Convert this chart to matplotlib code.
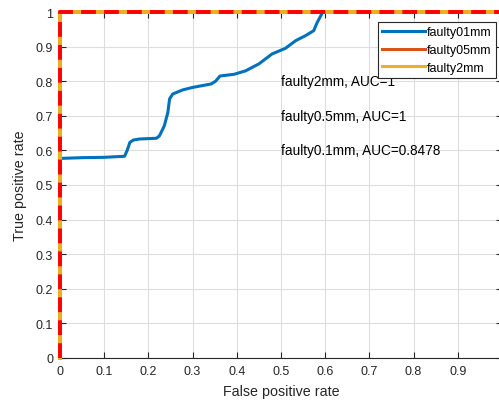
import matplotlib
matplotlib.use("Agg")
import matplotlib.pyplot as plt
import numpy as np

plt.rcParams['font.family'] = ['Liberation Sans', 'DejaVu Sans']

# ROC data
fpr_01mm = [0, 0, 0.004, 0.05, 0.10, 0.146, 0.152, 0.158, 0.166, 0.18, 0.218, 0.225,
            0.236, 0.244, 0.248, 0.255, 0.278, 0.30, 0.342, 0.352, 0.362, 0.394, 0.42,
            0.45, 0.48, 0.51, 0.533, 0.556, 0.574, 0.582, 0.592, 0.594, 1.0]
tpr_01mm = [0, 0.577, 0.577, 0.579, 0.580, 0.583, 0.600, 0.623, 0.630, 0.633, 0.635, 0.642,
            0.671, 0.71, 0.749, 0.763, 0.775, 0.782, 0.792, 0.80, 0.815, 0.82, 0.83,
            0.85, 0.879, 0.895, 0.917, 0.932, 0.946, 0.970, 0.994, 1.0, 1.0]
fpr_05mm = [0, 0, 1]
tpr_05mm = [0, 1, 1]
fpr_2mm = [0, 0, 1]
tpr_2mm = [0, 1, 1]
fpr_ref = [0, 0, 1]
tpr_ref = [0, 1, 1]

labels = ['faulty01mm', 'faulty05mm', 'faulty2mm']
annotations = ['faulty2mm, AUC=1', 'faulty0.5mm, AUC=1', 'faulty0.1mm, AUC=0.8478']
ann_y = [0.8, 0.7, 0.6]
ticks = [0, 0.1, 0.2, 0.3, 0.4, 0.5, 0.6, 0.7, 0.8, 0.9, 1]
tick_labels = ['0', '0.1', '0.2', '0.3', '0.4', '0.5', '0.6', '0.7', '0.8', '0.9', '1']

fig = plt.figure(figsize=(4.99, 4.02), dpi=100)
ax = fig.add_axes([60/499, 43/402, 442/499, 346/402])

l1, = ax.plot(fpr_01mm, tpr_01mm, color='#0072BD', lw=2.2, label=labels[0], clip_on=False, zorder=3)
l2, = ax.plot(fpr_05mm, tpr_05mm, color='#D95319', lw=2.8, label=labels[1], clip_on=False, zorder=4)
l3, = ax.plot(fpr_2mm, tpr_2mm, color='#EDB120', lw=2.8, label=labels[2], clip_on=False, zorder=5)
ax.plot(fpr_ref, tpr_ref, color='#FF0000', lw=2.8, dashes=(3.8, 2.1), clip_on=False, zorder=6)

for t, y in zip(annotations, ann_y):
    ax.text(0.5, y, t, fontsize=9.8, color='#000000', ha='left', va='center')

ax.set_xlim(0, 1)
ax.set_ylim(0, 1)
ax.set_xticks(ticks)
ax.set_xticklabels(tick_labels)
ax.set_yticks(ticks)
ax.set_yticklabels(tick_labels)
ax.tick_params(direction='in', length=4, width=0.8, colors='#262626', labelsize=9,
               top=True, right=True, pad=5)
ax.grid(True, color='#dedede', lw=0.8)
ax.set_axisbelow(True)
for s in ax.spines.values():
    s.set_color('#262626')
    s.set_linewidth(0.8)

ax.set_xlabel('False positive rate', fontsize=10.3, color='#262626', labelpad=5)
ax.set_ylabel('True positive rate', fontsize=10.3, color='#262626', labelpad=6)

leg = fig.legend(handles=[l1, l2, l3], loc='upper right',
                 bbox_to_anchor=(496/499, 1 - 23/402), borderaxespad=0,
                 fontsize=9, fancybox=False, framealpha=1, edgecolor='#262626',
                 handlelength=3.4, handletextpad=0.2, labelspacing=0.45, borderpad=0.35)
leg.get_frame().set_linewidth(0.8)
for h in leg.legend_handles:
    h.set_linewidth(2.2)

fig.savefig('out.png', dpi=100)
